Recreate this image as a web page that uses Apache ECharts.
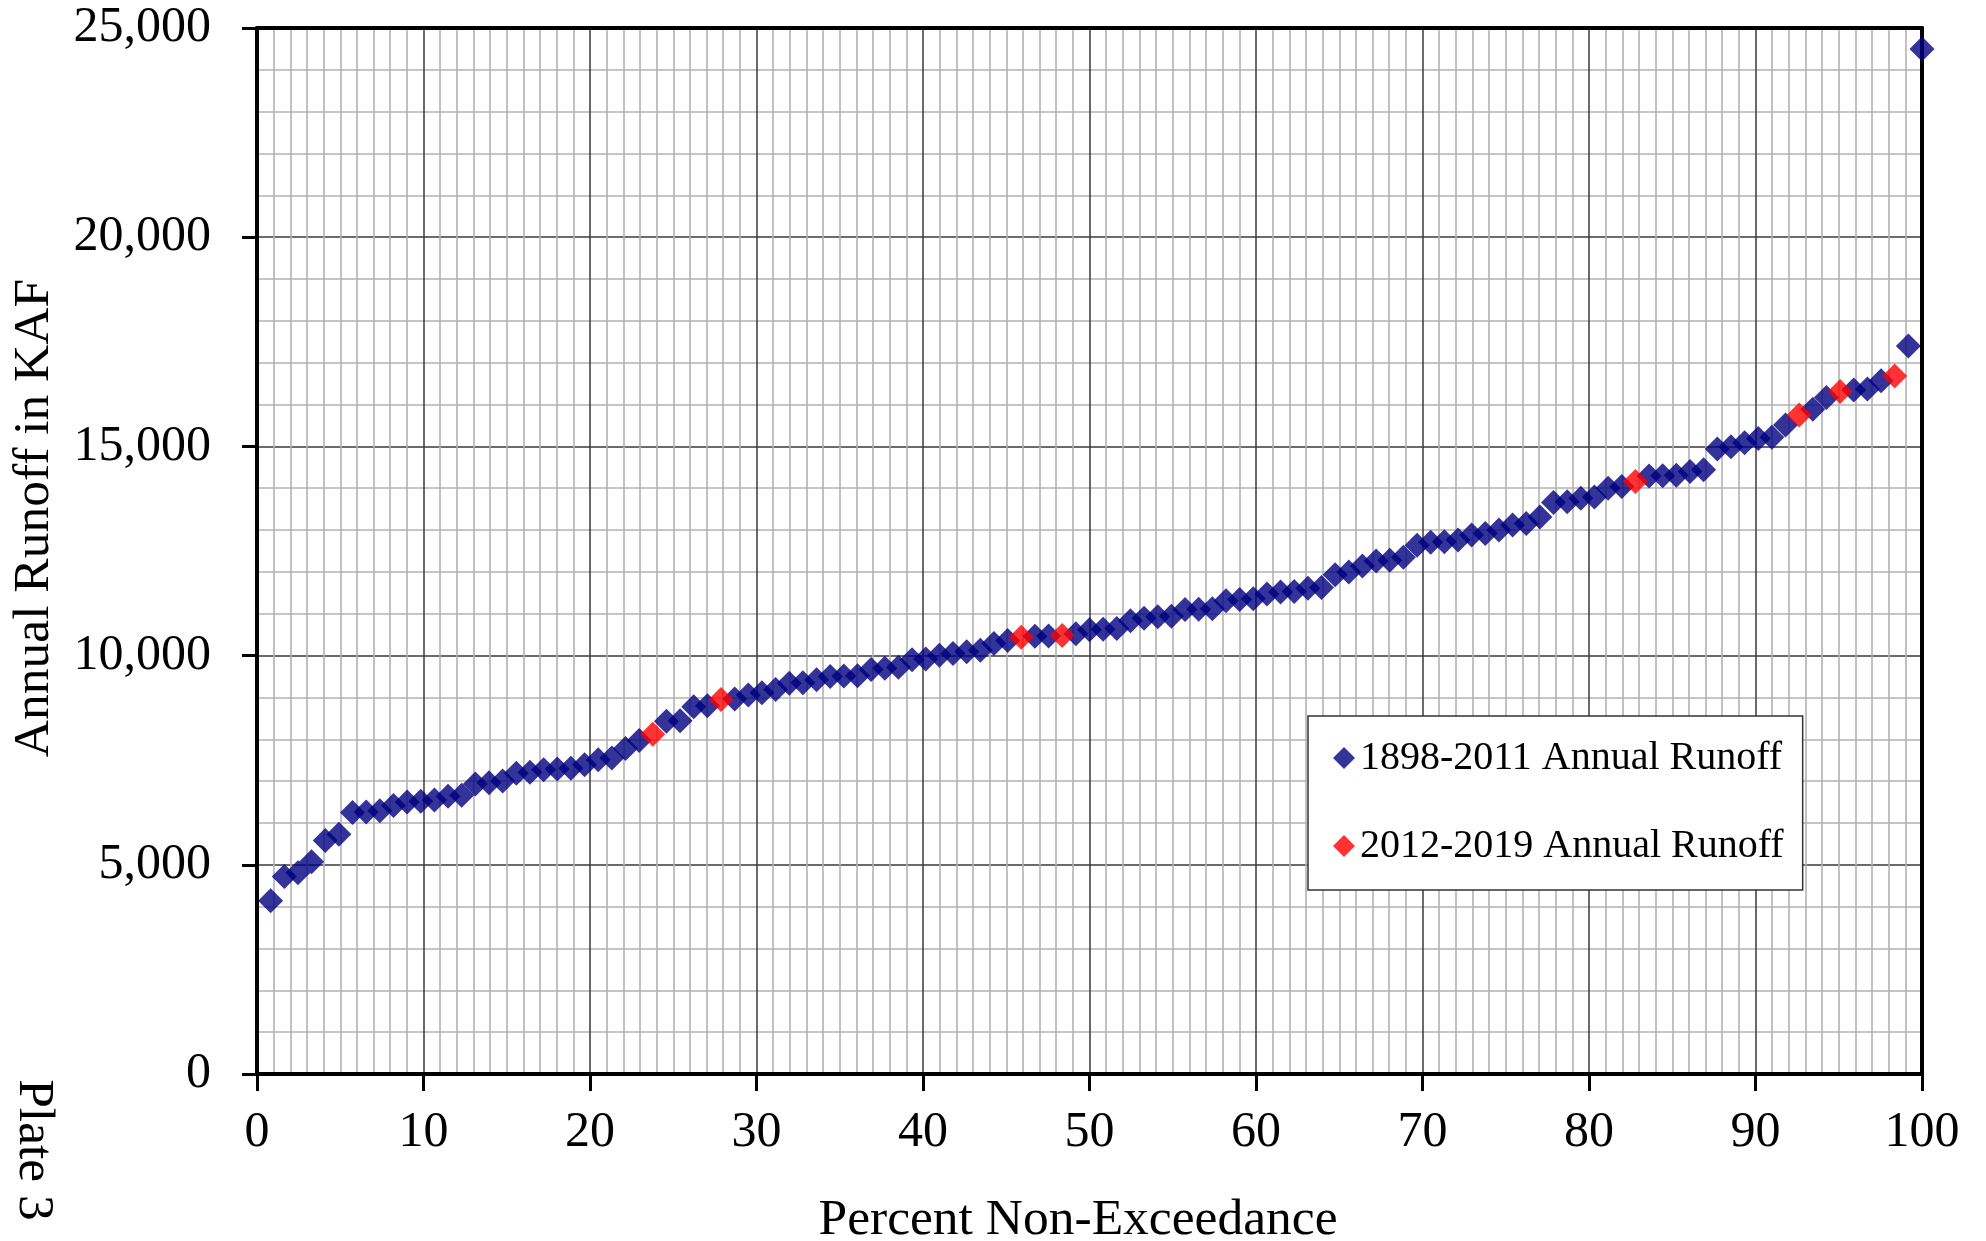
<!DOCTYPE html>
<html>
<head>
<meta charset="utf-8">
<script src="https://cdn.jsdelivr.net/npm/echarts@6/dist/echarts.min.js"></script>
<style>
html,body{margin:0;padding:0;background:#fff;}
#chart{width:1986px;height:1241px;}
</style>
</head>
<body>
<div id="chart"></div>
<script>
// Annual runoff (KAF), 1898-2011, sorted ascending
const runoff1898to2011 = [
  4140, 4720, 4810, 5070, 5580, 5730, 6250, 6260, 6290, 6420,
  6500, 6520, 6550, 6640, 6660, 6930, 6960, 7000, 7190, 7210,
  7270, 7290, 7310, 7390, 7510, 7550, 7780, 7970, 8430, 8440,
  8780, 8800, 8960, 9060, 9110, 9190, 9340, 9350, 9420, 9500,
  9510, 9520, 9670, 9700, 9720, 9900, 9920, 10010, 10050, 10090,
  10130, 10290, 10360, 10460, 10470, 10520, 10620, 10630, 10650, 10830,
  10890, 10930, 10940, 11100, 11110, 11120, 11310, 11340, 11360, 11470,
  11520, 11530, 11610, 11630, 11930, 12000, 12140, 12260, 12280, 12350,
  12640, 12710, 12720, 12760, 12880, 12920, 13000, 13120, 13160, 13310,
  13660, 13680, 13760, 13790, 14000, 14040, 14290, 14300, 14310, 14400,
  14440, 14940, 14990, 15090, 15190, 15220, 15510, 15890, 16170, 16350,
  16370, 16570, 17400, 24500
];
// Annual runoff (KAF), 2012-2019
const runoff2012to2019 = [8120, 8950, 10440, 10480, 14160, 15750, 16310, 16680];

const seriesNames = ['1898-2011 Annual Runoff', '2012-2019 Annual Runoff'];
const xTitle = 'Percent Non-Exceedance';
const yTitle = 'Annual Runoff in KAF';
const plateLabel = 'Plate 3';

// Percent non-exceedance = rank / N * 100 over the combined record
const combined = runoff1898to2011.map(v => ({v, g: 0}))
  .concat(runoff2012to2019.map(v => ({v, g: 1})))
  .sort((a, b) => a.v - b.v);
const N = combined.length;
const pts0 = [], pts1 = [];
combined.forEach((d, i) => {
  const p = (i + 1) / N * 100;
  (d.g === 0 ? pts0 : pts1).push([p, d.v]);
});

const FONT = "'Liberation Serif', 'Times New Roman', serif";
const chart = echarts.init(document.getElementById('chart'));

const commonHidden = {
  axisTick: {show: false}, axisLabel: {show: false},
  splitLine: {show: false}, minorSplitLine: {show: false}
};

chart.setOption({
  backgroundColor: '#fff',
  animation: false,
  grid: {left: 257, top: 28, right: 64, bottom: 167, containLabel: false},
  legend: {
    orient: 'vertical',
    left: 1308, top: 716,
    backgroundColor: '#fff',
    borderColor: '#333', borderWidth: 1.5,
    padding: [22, 19, 24, 25],
    itemGap: 48,
    itemWidth: 22, itemHeight: 22,
    textStyle: {fontFamily: FONT, fontSize: 40, color: '#000', lineHeight: 40, padding: [0, 0, 0, 0]},
    data: seriesNames
  },
  xAxis: [{
    type: 'value', min: 0, max: 100, interval: 10,
    axisLine: {show: true, onZero: false, lineStyle: {color: '#000', width: 4}},
    axisTick: {show: true, inside: false, length: 17, lineStyle: {color: '#000', width: 3}},
    axisLabel: {fontFamily: FONT, fontSize: 50, color: '#000', margin: 34},
    splitLine: {show: true, lineStyle: {color: '#3a3a3a', width: 1.5}},
    minorTick: {show: false, splitNumber: 10},
    minorSplitLine: {show: true, lineStyle: {color: '#b2b2b2', width: 1.6}},
    z: 3
  }, Object.assign({
    type: 'value', position: 'top', min: 0, max: 100,
    axisLine: {show: true, onZero: false, lineStyle: {color: '#000', width: 4}}, z: 3
  }, commonHidden)],
  yAxis: [{
    type: 'value', min: 0, max: 25000, interval: 5000,
    axisLine: {show: true, onZero: false, lineStyle: {color: '#000', width: 4}},
    axisTick: {show: true, inside: false, length: 15, lineStyle: {color: '#000', width: 3}},
    axisLabel: {
      fontFamily: FONT, fontSize: 50, color: '#000', margin: 46,
      formatter: v => v.toLocaleString('en-US')
    },
    splitLine: {show: true, lineStyle: {color: '#3a3a3a', width: 1.5}},
    minorTick: {show: false, splitNumber: 5},
    minorSplitLine: {show: true, lineStyle: {color: '#b2b2b2', width: 1.6}},
    z: 3
  }, Object.assign({
    type: 'value', position: 'right', min: 0, max: 25000,
    axisLine: {show: true, onZero: false, lineStyle: {color: '#000', width: 4}}, z: 3
  }, commonHidden)],
  series: [{
    name: seriesNames[0], type: 'scatter', symbol: 'diamond', symbolSize: 25,
    itemStyle: {color: '#000080'}, data: pts0, clip: false, z: 4
  }, {
    name: seriesNames[1], type: 'scatter', symbol: 'diamond', symbolSize: 25,
    itemStyle: {color: '#ff0000'}, data: pts1, clip: false, z: 5
  }],
  graphic: [{
    type: 'text', x: 34, y: 518, rotation: Math.PI / 2,
    style: {text: yTitle, font: '51.5px ' + FONT, fill: '#000', textAlign: 'center', textVerticalAlign: 'middle'}
  }, {
    type: 'text', x: 1078, y: 1220,
    style: {text: xTitle, font: '51.5px ' + FONT, fill: '#000', textAlign: 'center', textVerticalAlign: 'middle'}
  }, {
    type: 'text', x: 34, y: 1150, rotation: -Math.PI / 2,
    style: {text: plateLabel, font: '51.5px ' + FONT, fill: '#000', textAlign: 'center', textVerticalAlign: 'middle'}
  }]
});
</script>
</body>
</html>
